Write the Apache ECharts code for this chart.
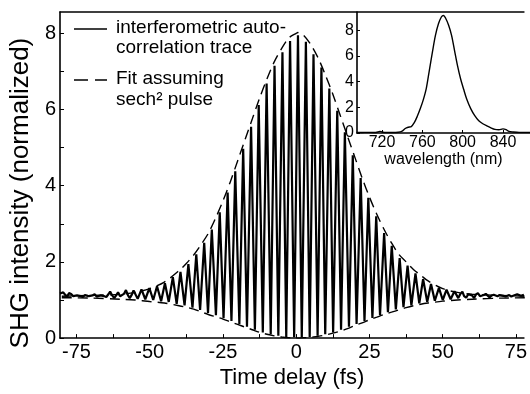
<!DOCTYPE html>
<html><head><meta charset="utf-8">
<script src="https://cdn.jsdelivr.net/npm/echarts@6/dist/echarts.min.js"></script>
<style>html,body{margin:0;padding:0;background:#fff}#c{width:530px;height:394px}</style>
</head><body><div id="c"></div>
<script>
// Interferometric autocorrelation trace (time delay in fs, normalized SHG)
const delayFs = [
  -80.6,-80.0,-79.5,-78.9,-78.2,-77.5,-76.8,-76.1,-75.5,-74.8,
  -74.2,-73.5,-72.8,-72.1,-71.5,-70.8,-70.2,-69.5,-68.8,-68.1,
  -67.5,-66.8,-66.2,-65.5,-64.8,-64.1,-63.5,-62.8,-62.1,-61.4,
  -60.8,-60.1,-59.5,-58.8,-58.1,-57.4,-56.8,-56.1,-55.5,
  -54.1,-52.8,-51.5,-50.1,-48.8,-47.5,-46.1,-44.8,-43.5,-42.1,
  -40.8,-39.5,-38.1,-36.8,-35.4,-34.1,-32.8,-31.4,-30.1,-28.8,
  -27.4,-26.1,-24.8,-23.4,-22.1,-20.8,-19.4,-18.1,-16.8,-15.4,
  -14.1,-12.8,-11.4,-10.1,-8.7,-7.4,-6.1,-4.7,-3.4,-2.1,
  -0.7,0.6,1.9,3.3,4.6,5.9,7.3,8.6,9.9,11.3,
  12.6,14.0,15.3,16.6,18.0,19.3,20.6,22.0,23.3,24.6,
  26.0,27.3,28.6,30.0,31.3,32.6,34.0,35.3,36.6,38.0,
  39.3,40.7,42.0,43.3,44.7,46.0,47.3,48.7,50.0,51.3,
  52.7,54.0,55.3,56.0,56.7,57.3,58.0,58.7,59.3,60.0,
  60.7,61.3,62.0,62.7,63.3,64.0,64.7,65.3,66.0,66.7,
  67.4,68.0,68.7,69.4,70.0,70.7,71.4,72.0,72.7,73.4,
  74.0,74.7,75.4,76.0,76.7,77.2,77.7
];
const shgSignal = [
  1.17,1.13,1.2,1.14,1.09,1.18,1.16,1.1,1.07,1.12,
  1.14,1.1,1.08,1.13,1.16,1.1,1.05,1.12,1.15,1.09,
  1.06,1.12,1.16,1.1,1.08,1.15,1.22,1.12,1.05,1.13,
  1.2,1.1,1.07,1.16,1.26,1.12,1.05,1.14,1.25,
  1.03,1.28,1.02,1.31,1.0,1.36,0.97,1.44,0.95,1.6,
  0.9,1.74,0.86,1.94,0.8,2.2,0.74,2.5,0.66,2.85,
  0.6,3.3,0.52,3.82,0.45,4.38,0.37,4.97,0.3,5.55,
  0.22,6.12,0.15,6.68,0.1,7.15,0.06,7.5,0.03,7.8,
  0.02,7.95,0.02,7.78,0.03,7.45,0.06,7.1,0.1,6.55,
  0.15,5.97,0.22,5.4,0.3,4.8,0.37,4.2,0.45,3.68,
  0.53,3.2,0.6,2.76,0.68,2.42,0.75,2.1,0.81,1.9,
  0.86,1.7,0.91,1.55,0.95,1.42,0.98,1.32,1.0,1.27,
  1.02,1.23,1.05,1.16,1.22,1.1,1.06,1.15,1.2,1.12,
  1.05,1.14,1.18,1.1,1.08,1.13,1.16,1.11,1.07,1.12,
  1.14,1.09,1.1,1.13,1.15,1.11,1.09,1.14,1.13,1.09,
  1.1,1.13,1.15,1.1,1.11,1.12,1.14
];
// sech^2 fit envelopes
const fitDelay = [-80,-70,-60,-55,-50,-45,-40,-37.5,-35,-32.5,-30,-27.5,-25,-22.5,-20,-17.5,-15,-12.5,-10,-7.5,-5,-2.5,0,0.6,2.5,5,7.5,10,12.5,15,17.5,20,22.5,25,27.5,30,32.5,35,37.5,40,42.5,45,50,55,60,70,78];
const fitUpper = [1.1,1.12,1.15,1.2,1.3,1.47,1.77,1.96,2.18,2.45,2.75,3.15,3.6,4.1,4.65,5.2,5.75,6.3,6.8,7.25,7.6,7.88,8.0,8.02,7.95,7.7,7.35,6.9,6.4,5.85,5.3,4.75,4.2,3.7,3.25,2.85,2.5,2.2,2.0,1.8,1.65,1.5,1.3,1.2,1.15,1.12,1.1];
const fitLower = [1.06,1.05,1.02,1.0,0.96,0.92,0.85,0.81,0.76,0.69,0.62,0.56,0.5,0.43,0.36,0.29,0.22,0.15,0.1,0.06,0.03,0.01,0,0,0.01,0.02,0.05,0.08,0.13,0.18,0.25,0.33,0.4,0.48,0.55,0.62,0.68,0.74,0.8,0.85,0.89,0.92,0.97,1.0,1.02,1.05,1.06];
// Inset spectrum
const wavelengthNm = [695,700,706,712,716,718,720,724,730,736,740,743,746,749,752,755,758,761,764,767,770,773,776,779,781,783,786,789,792,795,798,801,804,808,812,816,820,824,828,832,836,840,843,846,850,856,862,867];
const spectrum = [0.05,0.04,0.05,0.04,0.08,0.13,0.08,0.04,0.04,0.06,0.15,0.35,0.45,0.5,0.8,1.3,1.9,2.6,3.5,4.9,6.3,7.6,8.5,9.05,9.15,8.95,8.4,7.6,6.4,5.2,4.2,3.4,2.65,1.9,1.35,0.95,0.72,0.55,0.4,0.28,0.25,0.32,0.26,0.12,0.08,0.05,0.05,0.05];
// Tick labels
const mainXLabels = [-75,-50,-25,0,25,50,75];
const mainXTicks = [-75,-62.5,-50,-37.5,-25,-12.5,0,12.5,25,37.5,50,62.5,75];
const mainYLabels = [0,2,4,6,8];
const mainYTicks = [0,1,2,3,4,5,6,7,8];
const insetXLabels = [720,760,800,840];
const insetYLabels = [0,2,4,6,8];
const legendTexts = ['interferometric auto-','correlation trace','Fit assuming','sech\u00B2 pulse'];

const FONT = '"Liberation Sans", Arial, Helvetica, sans-serif';
const zip = (a, b) => a.map((x, i) => [x, b[i]]);
const black = '#000';
const chart = echarts.init(document.getElementById('c'), null, {renderer: 'canvas'});

const axisCommon = {
  splitLine: {show: false},
  axisLine: {show: true, onZero: false, lineStyle: {color: black, width: 1.6}}
};

chart.setOption({
  animation: false,
  backgroundColor: '#fff',
  grid: [
    {left: 53, top: 12, right: 0, bottom: 48},
    {left: 357, top: 12, right: 0, bottom: 261}
  ],
  xAxis: [
    Object.assign({}, axisCommon, {
      gridIndex: 0, type: 'value', min: -80.6, max: 77.7,
      axisTick: {show: true, inside: true, length: 4, customValues: mainXTicks, lineStyle: {color: black, width: 1}},
      axisLabel: {customValues: mainXLabels, fontSize: 20, color: black, margin: 4, fontFamily: FONT},
      name: 'Time delay (fs)', nameLocation: 'middle', nameGap: 26,
      nameTextStyle: {fontSize: 22, color: black, fontFamily: FONT}
    }),
    Object.assign({}, axisCommon, {
      gridIndex: 0, type: 'value', position: 'top', min: -80.6, max: 77.7,
      axisTick: {show: false}, axisLabel: {show: false}
    }),
    Object.assign({}, axisCommon, {
      gridIndex: 1, type: 'value', min: 695.2, max: 866.8,
      axisTick: {show: true, inside: true, length: 3, customValues: insetXLabels, lineStyle: {color: black}},
      axisLabel: {customValues: insetXLabels, fontSize: 16, color: black, margin: 2, fontFamily: FONT},
      name: 'wavelength (nm)', nameLocation: 'middle', nameGap: 16,
      nameTextStyle: {fontSize: 16, color: black, fontFamily: FONT}
    })
  ],
  yAxis: [
    Object.assign({}, axisCommon, {
      gridIndex: 0, type: 'value', min: 0, max: 8.56,
      axisTick: {show: true, inside: true, length: 4, customValues: mainYTicks, lineStyle: {color: black}},
      axisLabel: {customValues: mainYLabels, fontSize: 20, color: black, margin: 4, fontFamily: FONT},
      name: 'SHG intensity (normalized)', nameLocation: 'middle', nameGap: 22, nameRotate: 90,
      nameTextStyle: {fontSize: 26, color: black, fontFamily: FONT, padding: [0, 36, 0, 0]}
    }),
    Object.assign({}, axisCommon, {
      gridIndex: 1, type: 'value', min: 0, max: 9.42,
      axisTick: {show: true, inside: true, length: 3, customValues: insetYLabels, lineStyle: {color: black}},
      axisLabel: {customValues: insetYLabels, fontSize: 16, color: black, margin: 3, fontFamily: FONT}
    })
  ],
  series: [
    {type: 'line', name: 'interferometric autocorrelation trace', xAxisIndex: 0, yAxisIndex: 0,
      data: zip(delayFs, shgSignal), showSymbol: false, symbol: 'none',
      lineStyle: {color: black, width: 2.2}},
    {type: 'line', name: 'Fit assuming sech2 pulse', xAxisIndex: 0, yAxisIndex: 0,
      data: zip(fitDelay, fitUpper), showSymbol: false, symbol: 'none', smooth: 0.3,
      lineStyle: {color: black, width: 1.4, type: [10, 6]}},
    {type: 'line', name: 'Fit lower', xAxisIndex: 0, yAxisIndex: 0,
      data: zip(fitDelay, fitLower), showSymbol: false, symbol: 'none', smooth: 0.3,
      lineStyle: {color: black, width: 1.4, type: [10, 6]}},
    {type: 'line', name: 'spectrum', xAxisIndex: 2, yAxisIndex: 1,
      data: zip(wavelengthNm, spectrum), showSymbol: false, symbol: 'none', smooth: 0.3,
      lineStyle: {color: black, width: 1.4}}
  ],
  graphic: [
    {type: 'line', shape: {x1: 74, y1: 29, x2: 107, y2: 29}, style: {stroke: black, lineWidth: 1.5}},
    {type: 'line', shape: {x1: 74, y1: 80, x2: 107, y2: 80}, style: {stroke: black, lineWidth: 1.5, lineDash: [14, 7]}},
    {type: 'text', x: 116, y: 28, style: {text: legendTexts[0], font: '19px ' + FONT, fill: black, verticalAlign: 'middle', textVerticalAlign: 'middle'}},
    {type: 'text', x: 116, y: 48, style: {text: legendTexts[1], font: '19px ' + FONT, fill: black, verticalAlign: 'middle', textVerticalAlign: 'middle'}},
    {type: 'text', x: 116, y: 79, style: {text: legendTexts[2], font: '19px ' + FONT, fill: black, verticalAlign: 'middle', textVerticalAlign: 'middle'}},
    {type: 'text', x: 116, y: 100, style: {text: legendTexts[3], font: '19px ' + FONT, fill: black, verticalAlign: 'middle', textVerticalAlign: 'middle'}}
  ]
});
</script></body></html>
